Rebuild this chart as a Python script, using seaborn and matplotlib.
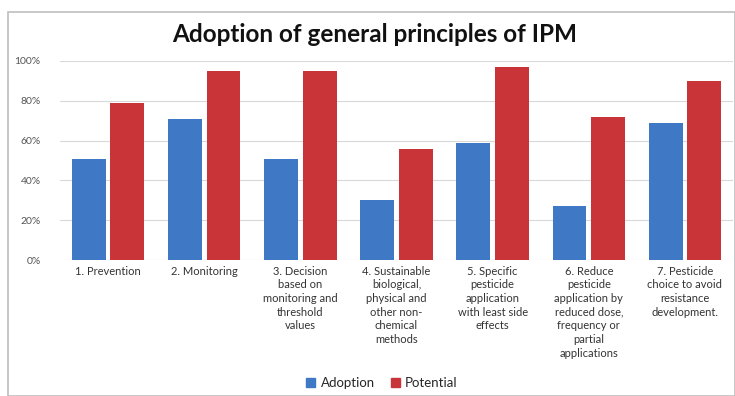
import matplotlib
matplotlib.use("Agg")
import matplotlib.pyplot as plt
import matplotlib.patches as mpatches
import seaborn as sns
import pandas as pd

categories = [
    "1. Prevention",
    "2. Monitoring",
    "3. Decision\nbased on\nmonitoring and\nthreshold\nvalues",
    "4. Sustainable\nbiological,\nphysical and\nother non-\nchemical\nmethods",
    "5. Specific\npesticide\napplication\nwith least side\neffects",
    "6. Reduce\npesticide\napplication by\nreduced dose,\nfrequency or\npartial\napplications",
    "7. Pesticide\nchoice to avoid\nresistance\ndevelopment.",
]
adoption = [51, 71, 51, 30, 59, 27, 69]
potential = [79, 95, 95, 56, 97, 72, 90]
series = ["Adoption", "Potential"]
yticks = [0, 20, 40, 60, 80, 100]

df = pd.DataFrame({
    "cat": categories * 2,
    "val": adoption + potential,
    "series": [series[0]] * len(categories) + [series[1]] * len(categories),
})

sns.set_theme(style="white")
plt.rcParams["font.family"] = ["Lato", "DejaVu Sans"]

fig = plt.figure(figsize=(7.35, 3.96), dpi=100)
ax = fig.add_axes([60 / 735, 1 - 260 / 396, 673 / 735, 199 / 396])

colors = {"Adoption": "#3f78c4", "Potential": "#c93438"}
sns.barplot(data=df, x="cat", y="val", hue="series", palette=colors,
            width=0.8, gap=0.12, saturation=1, ax=ax, legend=False, zorder=3,
            edgecolor="none")

ax.set_ylim(0, 100)
ax.set_yticks(yticks)
ax.set_yticklabels([f"{t}%" for t in yticks], fontsize=7.5, color="#555555")
ax.yaxis.grid(True, color="#d9d9d9", linewidth=0.8, zorder=0)
ax.set_xlabel("")
ax.set_ylabel("")
ax.tick_params(axis="x", labelsize=8, colors="#333333", length=0, pad=4)
ax.tick_params(axis="y", length=0, pad=14)
for lbl in ax.get_xticklabels():
    lbl.set_linespacing(1.3)
for s in ax.spines.values():
    s.set_visible(False)
ax.set_xlim(-0.5, 6.5)

fig.text(0.51, 1 - 35 / 396, "Adoption of general principles of IPM",
         ha="center", va="center", fontsize=17.5, fontweight="bold", color="#111111")

handles = [mpatches.Patch(color=colors[s], label=s) for s in series]
fig.legend(handles=handles, loc="center", bbox_to_anchor=(382 / 735, 1 - 383 / 396),
           ncol=2, frameon=False, fontsize=9.5, handlelength=0.7, handleheight=0.7,
           handletextpad=0.4, columnspacing=1.2)

border = mpatches.Rectangle((8 / 735, 0), 1 - 8 / 735, 1 - 12 / 396,
                            transform=fig.transFigure, fill=False,
                            edgecolor="#bfbfbf", linewidth=1.2)
fig.patches.append(border)

fig.savefig("out.png", dpi=100, facecolor="white")
